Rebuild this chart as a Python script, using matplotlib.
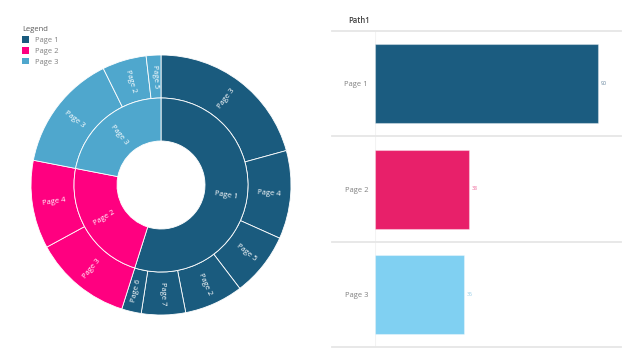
import matplotlib
matplotlib.use('Agg')
import matplotlib.pyplot as plt
from matplotlib.patches import Patch

plt.rcParams['font.family'] = ['Open Sans', 'DejaVu Sans']

# data
parents = ['Page 1', 'Page 2', 'Page 3']
parent_values = [90, 38, 36]
parent_colors = ['#1a5b7e', '#ff0080', '#4fa7cd']

children = ['Page 3', 'Page 4', 'Page 5', 'Page 2', 'Page 7', 'Page 6',
            'Page 3', 'Page 4',
            'Page 3', 'Page 2', 'Page 5']
child_values = [34, 18, 13, 12, 9, 4,
                20, 18,
                24, 9, 3]
child_parent = [0, 0, 0, 0, 0, 0, 1, 1, 2, 2, 2]

bar_colors = ['#1b5c80', '#e8206a', '#80d0f2']
value_colors = ['#5f7f98', '#ec5c92', '#8fcbe6']

fig = plt.figure(figsize=(6.4, 3.63), dpi=100)
W, H = 640, 363

# ---- sunburst ----
R = 130.0
cx, cy = 161, 185
half = 136
ax = fig.add_axes([(cx - half) / W, (H - cy - half) / H, 2 * half / W, 2 * half / H])

r_mid = 87 / R
r_hole = 44 / R
wp = dict(edgecolor='white', linewidth=0.6)

outer, outer_txt = ax.pie(child_values, labels=children,
                          colors=[parent_colors[p] for p in child_parent],
                          radius=1.0, startangle=90, counterclock=False,
                          wedgeprops=dict(width=1.0 - r_mid, **wp),
                          labeldistance=(1.0 + r_mid) / 2, rotatelabels=True)
inner, inner_txt = ax.pie(parent_values, labels=parents, colors=parent_colors,
                          radius=r_mid, startangle=90, counterclock=False,
                          wedgeprops=dict(width=r_mid - r_hole, **wp),
                          labeldistance=(r_mid + r_hole) / 2 / r_mid, rotatelabels=True)
for t in outer_txt + inner_txt:
    t.set_ha('center')
    t.set_va('center')
    t.set_color('white')
    t.set_fontsize(5.5)
ax.set_xlim(-half / R, half / R)
ax.set_ylim(-half / R, half / R)
ax.set_aspect('equal')

# legend
handles = [Patch(facecolor=c, edgecolor='none') for c in parent_colors]
leg = fig.legend(handles, parents, title='Legend', loc='upper left',
                 bbox_to_anchor=(17 / W, 1 - 21 / H), frameon=False,
                 fontsize=5.5, title_fontsize=5.5, handlelength=0.9, handleheight=0.9,
                 handletextpad=0.7, labelspacing=0.4, alignment='left',
                 borderaxespad=0.3)
leg.get_title().set_color('#595959')
for t in leg.get_texts():
    t.set_color('#808080')

# ---- bar chart ----
x0, x1 = 375, 621
y0, y1 = 31, 347
bx = fig.add_axes([x0 / W, (H - y1) / H, (x1 - x0) / W, (y1 - y0) / H])
ypos = list(range(len(parents)))
bx.barh(ypos, parent_values, height=0.75, color=bar_colors,
        edgecolor=[(1, 1, 1, 0.35)] * 3, linewidth=0.8)
bx.set_xlim(0, 90 * (x1 - x0) / (598 - x0))
bx.set_ylim(2.5, -0.5)
bx.set_yticks(ypos)
bx.set_yticklabels(parents, fontsize=5.5, color='#808080')
bx.tick_params(axis='y', length=0, pad=5)
bx.set_xticks([])
for s in bx.spines.values():
    s.set_visible(False)
bx.axvline(0, color='#f3f3f3', linewidth=0.8, zorder=0)

left_ext = -(x0 - 332) / (x1 - x0)
for yb in [-0.5, 0.5, 1.5, 2.5]:
    bx.plot([left_ext, 1], [yb, yb], transform=bx.get_yaxis_transform(),
            color='#e6e6e6', linewidth=1.3, clip_on=False)

for i, v in enumerate(parent_values):
    bx.text(v + 1.2, i, str(v), fontsize=3.8, color=value_colors[i],
            va='center', ha='left')

bx.text(-5 / (x1 - x0), -0.56, 'Path1', transform=bx.get_yaxis_transform(),
        fontsize=5.5, color='#404040', ha='right', va='bottom', fontweight='semibold')

fig.savefig('out.png', dpi=100)
